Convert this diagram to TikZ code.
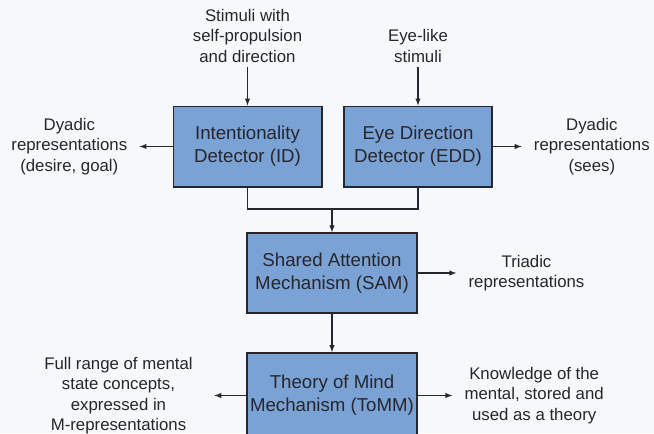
\documentclass[tikz,border=0pt]{standalone}
\usepackage{fontspec}
\setmainfont{Liberation Sans}
\usetikzlibrary{positioning,arrows}

\definecolor{boxblue}{RGB}{122,162,212}
\definecolor{paper}{RGB}{246,249,252}
\definecolor{ink}{RGB}{38,38,44}

\tikzset{
	module/.style={draw=ink, line width=1pt, fill=boxblue, text=ink, align=center,
		inner xsep=0pt, minimum width=111.5pt, minimum height=60.5pt,
		font=\fontsize{14}{17.3}\selectfont},
	outtext/.style={align=center, text=ink, inner xsep=9pt, inner ysep=3pt,
		font=\fontsize{12.6}{15.4}\selectfont},
	link/.style={line width=0.8pt, draw=ink},
	arr/.style={link, -latex}
}

\begin{document}
\begin{tikzpicture}[x=0.75pt,y=-0.75pt]
	% page
	\fill[paper] (0,0) rectangle (654,433);
	\useasboundingbox (0,0) rectangle (654,433);
	\clip (0,0) rectangle (654,433);
	
	% the four modules
	\node[module] (id) at (247.5,146.5) {Intentionality\\Detector (ID)};
	\node[module, minimum width=111pt] (edd) at (418,146.5) {Eye Direction\\Detector (EDD)};
	\node[module, minimum width=127.5pt, minimum height=60pt] (sam) at (332,273) {Shared Attention\\Mechanism (SAM)};
	\node[module, minimum width=127.5pt, minimum height=64pt] (tomm) at (332,395.5) {Theory of Mind\\Mechanism (ToMM)};
	
	% inputs
	\node[outtext, above=29pt of id] (stimid) {Stimuli with\\self-propulsion\\and direction};
	\node[outtext, above=29pt of edd] (stimedd) {Eye-like\\stimuli};
	
	% outputs
	\node[outtext, left=24.75pt of id] (dyadid) {Dyadic\\representations\\(desire, goal)};
	\node[outtext, right=21.75pt of edd] (dyadedd) {Dyadic\\representations\\(sees)};
	\node[outtext, right=29pt of sam] (triad) {Triadic\\representations};
	\node[outtext, inner xsep=16pt, left=24pt of tomm] (mental) {Full range of mental\\state concepts,\\expressed in\\M-representations};
	\node[outtext, right=26pt of tomm] (theory) {Knowledge of the\\mental, stored and\\used as a theory};
	
	% arrows
	\draw[arr] (stimid) -- (id);
	\draw[arr] (stimedd) -- (edd);
	\draw[arr] (id) -- (dyadid);
	\draw[arr] (edd) -- (dyadedd);
	\draw[arr] (sam) -- (triad);
	\draw[arr] (tomm) -- (mental);
	\draw[arr] (tomm) -- (theory);
	
	% ID and EDD join into SAM
	\coordinate (join) at (332,209);
	\draw[link] (id.south) |- (join) -| (edd.south);
	\draw[arr] (join) -- (sam);
	\draw[arr] (sam) -- (tomm);
\end{tikzpicture}
\end{document}
